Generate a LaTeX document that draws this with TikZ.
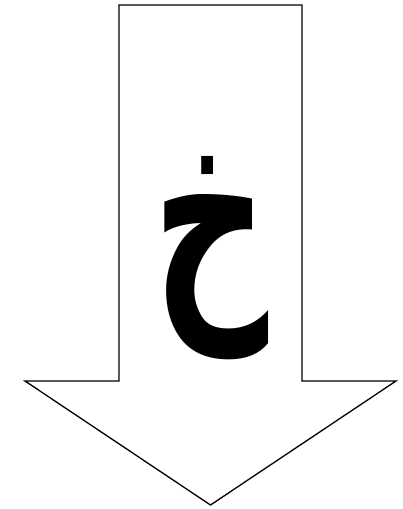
\documentclass[tikz,border=0pt]{standalone}
\usepackage{fontspec}
\usepackage{graphicx}
\TeXXeTstate=1
\newfontfamily\arabicfont[Script=Arabic]{DejaVu Sans}
\begin{document}
\begin{tikzpicture}[x=1pt,y=-1pt,
  arrowshape/.style={draw=black,line width=1.3pt,fill=white,line join=miter},
  letter/.style={font=\arabicfont\bfseries\fontsize{215}{250}\selectfont,inner sep=0pt}]
\useasboundingbox (0,0) rectangle (403,509);
\draw[arrowshape] (119,5) -- (302,5) -- (302,381) -- (396,381) -- (210.5,505) -- (25,381) -- (119,381) -- cycle;
\node[letter] (kh) at (211,258) {\scalebox{0.75}[1.15]{\beginR خ\endR}};
\end{tikzpicture}
\end{document}
